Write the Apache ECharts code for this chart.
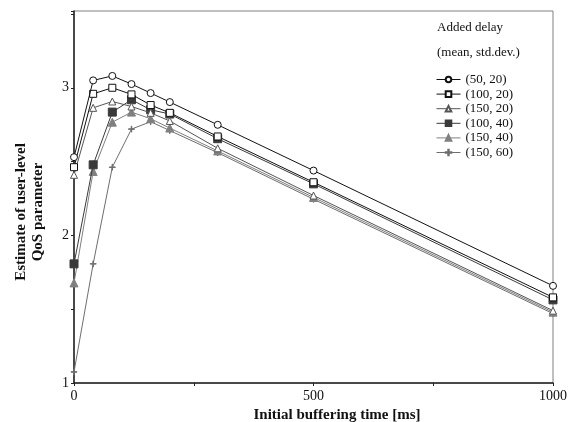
<!DOCTYPE html>
<html><head><meta charset="utf-8">
<script src="https://cdn.jsdelivr.net/npm/echarts@6/dist/echarts.min.js"></script>
<style>html,body{margin:0;padding:0;background:#fff}#c{width:584px;height:422px}</style>
</head><body><div id="c"></div>
<script>
const xValues = [0, 40, 80, 120, 160, 200, 300, 500, 1000];
const seriesNames = ['(50, 20)', '(100, 20)', '(150, 20)', '(100, 40)', '(150, 40)', '(150, 60)'];
const s50_20  = [2.53, 3.05, 3.08, 3.025, 2.964, 2.903, 2.749, 2.439, 1.658];
const s100_20 = [2.462, 2.959, 3.0, 2.955, 2.883, 2.83, 2.67, 2.36, 1.58];
const s150_20 = [2.41, 2.864, 2.907, 2.873, 2.83, 2.775, 2.59, 2.27, 1.49];
const s100_40 = [1.807, 2.478, 2.835, 2.919, 2.851, 2.822, 2.655, 2.349, 1.563];
const s150_40 = [1.678, 2.433, 2.767, 2.835, 2.79, 2.727, 2.572, 2.257, 1.48];
const s150_60 = [1.075, 1.807, 2.462, 2.72, 2.77, 2.71, 2.56, 2.245, 1.47];
const xTicks = [0, 500, 1000];
const yTicks = [1, 2, 3];

const allData = [s50_20, s100_20, s150_20, s100_40, s150_40, s150_60];
const styles = [
  {symbol: 'circle', color: '#111', fill: '#fff', size: 7},
  {symbol: 'rect', color: '#111', fill: '#fff', size: 7},
  {symbol: 'triangle', color: '#555', fill: '#fff', size: 7},
  {symbol: 'rect', color: '#3a3a3a', fill: '#3a3a3a', size: 8},
  {symbol: 'triangle', color: '#808080', fill: '#808080', size: 8},
  {symbol: 'path://M4.6,0h0.8v4.6h4.6v0.8h-4.6v4.6h-0.8v-4.6h-4.6v-0.8h4.6z', color: '#6e6e6e', fill: '#6e6e6e', size: 6}
];
const font = 'Liberation Serif';
const chart = echarts.init(document.getElementById('c'), null, {renderer: 'canvas'});
chart.setOption({
  animation: false,
  backgroundColor: '#fff',
  grid: {left: 74, right: 31, top: 11, bottom: 39, show: true, borderColor: '#808080', borderWidth: 1},
  xAxis: {
    type: 'value', min: 0, max: 1000, interval: 500,
    axisLine: {lineStyle: {color: '#222', width: 1.5}},
    axisTick: {show: true, length: 3, lineStyle: {color: '#222'}},
    minorTick: {show: true, splitNumber: 2, length: 3, lineStyle: {color: '#222'}},
    splitLine: {show: false},
    axisLabel: {color: '#111', fontFamily: font, fontSize: 14, margin: 6,
      formatter: v => xTicks.includes(v) ? String(v) : ''}
  },
  yAxis: {
    type: 'value', min: 1, max: 3.52, interval: 1,
    axisLine: {show: true, lineStyle: {color: '#222', width: 1.5}},
    axisTick: {show: true, length: 3, lineStyle: {color: '#222'}},
    minorTick: {show: true, splitNumber: 2, length: 3, lineStyle: {color: '#222'}},
    splitLine: {show: false},
    axisLabel: {color: '#111', fontFamily: font, fontSize: 14, margin: 5,
      formatter: v => yTicks.includes(v) ? String(v) : ''}
  },
  legend: {
    orient: 'vertical', left: 431, top: 68, itemGap: 1.6, itemWidth: 24, itemHeight: 7,
    textStyle: {fontFamily: font, fontSize: 13, color: '#111'},
    lineStyle: {width: 1},
    data: seriesNames
  },
  graphic: [
    {type: 'text', left: 437, top: 21, style: {text: 'Added delay', font: '13px "Liberation Serif"', fill: '#111'}},
    {type: 'text', left: 437, top: 46, style: {text: '(mean, std.dev.)', font: '13px "Liberation Serif"', fill: '#111'}},
    {type: 'text', x: 337, y: 415, style: {text: 'Initial buffering time [ms]', font: 'bold 15px "Liberation Serif"', fill: '#111', align: 'center', verticalAlign: 'middle'}},
    {type: 'text', x: 30, y: 212, rotation: Math.PI / 2, style: {text: 'Estimate of user-level\nQoS parameter', font: 'bold 15px "Liberation Serif"', fill: '#111', align: 'center', verticalAlign: 'middle', lineHeight: 17}}
  ],
  series: allData.map((d, i) => ({
    name: seriesNames[i], type: 'line',
    data: d.map((v, j) => [xValues[j], v]),
    symbol: styles[i].symbol, symbolSize: styles[i].size,
    showAllSymbol: true,
    itemStyle: {color: styles[i].fill, borderColor: styles[i].color, borderWidth: 1},
    lineStyle: {color: styles[i].color, width: 1},
    z: 10 - i
  }))
});
</script></body></html>
